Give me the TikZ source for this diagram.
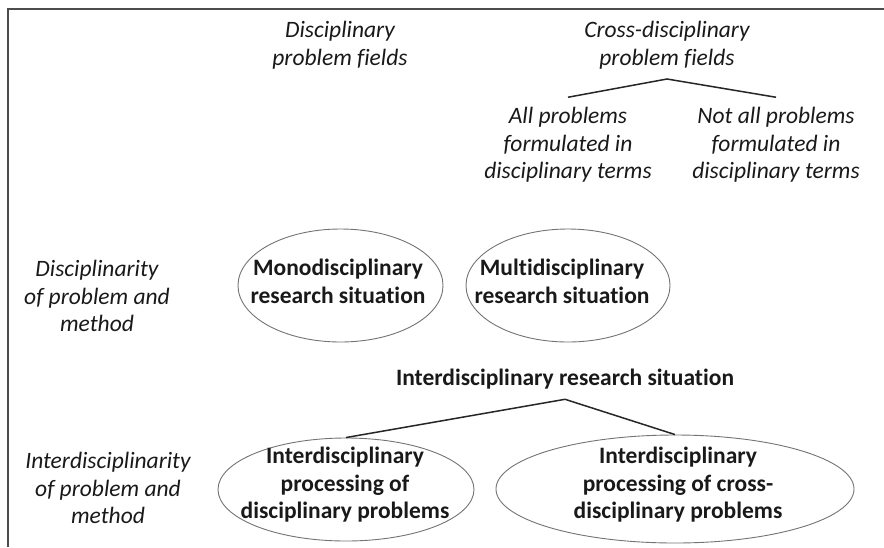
\documentclass[tikz,border=0pt]{standalone}
\usepackage{fontspec}
\setmainfont{Carlito}[Ligatures=NoCommon]
\usetikzlibrary{shapes.geometric, positioning}

\begin{document}
\begin{tikzpicture}[x=1pt, y=-1pt,
      field/.style={
        align=center,
        inner sep=10pt,
        text=black!90,
        font=\fontsize{23.5}{27.5}\selectfont\itshape
      },
      situation/.style={
        align=center,
        inner sep=10pt,
        text=black!90,
        font=\fontsize{23.5}{27.5}\selectfont\bfseries
      },
      oval/.style={ellipse, draw=black!55, line width=0.9pt, inner sep=0pt},
      fork/.style={draw=black!85, line width=1.5pt},
      frame/.style={draw=black!70, line width=1.2pt}]
    \useasboundingbox (0,0) rectangle (884,547);
    \draw[frame] (8,547) -- (8,9) -- (884,9);

    \node[field] (D) at (340,45) {Disciplinary\\problem fields};
    \node[field] (C) at (667,45) {Cross-disciplinary\\problem fields};
    \node[field] (CA) at (568,145) {All problems\\formulated in\\disciplinary terms};
    \node[field] (CN) at (776,145) {Not all problems\\formulated in\\disciplinary terms};
    \node[field] (DM) at (97,296) {Disciplinarity\\of problem and\\method};
    \node[field] (IM) at (108,488) {Interdisciplinarity\\of problem and\\method};

    \node[oval, minimum width=205pt, minimum height=113pt] (mono) at (340.5,285.5) {};
    \node[oval, minimum width=204pt, minimum height=113pt] (multi) at (568,285.5) {};
    \node[oval, minimum width=256pt, minimum height=103pt] (IP) at (346,489.5) {};
    \node[oval, minimum width=358pt, minimum height=108pt] (CP) at (675,489) {};

    \node[situation] (monotext) at (338,281.5) {Monodisciplinary\\research situation};
    \node[situation] (multitext) at (562,281.5) {Multidisciplinary\\research situation};
    \node[situation] (IRS) at (565,379) {Interdisciplinary research situation};
    \node[situation] (IPtext) at (345,485) {Interdisciplinary\\processing of\\disciplinary problems};
    \node[situation] (CPtext) at (678,485) {Interdisciplinary\\processing of cross-\\disciplinary problems};

    \draw[fork] (CA.north) -- (C.south) -- (CN.north);
    \draw[fork] (IP.north) -- (IRS.south) -- (CP.north);
\end{tikzpicture}
\end{document}
